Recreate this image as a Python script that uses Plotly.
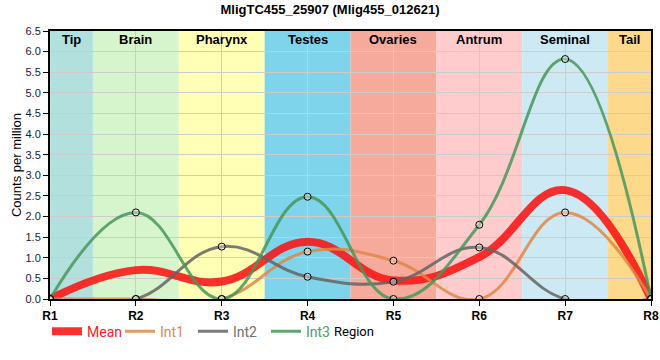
import plotly.graph_objects as go

regions = ["R1", "R2", "R3", "R4", "R5", "R6", "R7", "R8"]
int1 = [0, 0, 0, 1.15, 0.93, 0, 2.1, 0]
int2 = [0, 0, 1.27, 0.54, 0.42, 1.25, 0, 0]
int3 = [0, 2.1, 0, 2.48, 0, 1.8, 5.82, 0]
mean = [round((a + b + c) / 3, 3) for a, b, c in zip(int1, int2, int3)]

band_names = ["Tip", "Brain", "Pharynx", "Testes", "Ovaries", "Antrum", "Seminal", "Tail"]
band_starts = [1, 1.5, 2.5, 3.5, 4.5, 5.5, 6.5, 7.5]
band_ends = [1.5, 2.5, 3.5, 4.5, 5.5, 6.5, 7.5, 8]
band_colors = ["#b2e0dc", "#d7f5cd", "#ffffb5", "#7ed4ea", "#f5aa9c", "#ffcccd", "#cdeaf4", "#fdd98b"]

xs = list(range(1, len(regions) + 1))

fig = go.Figure()

series = [
    ("Mean", mean, "rgba(250,20,20,0.88)", 8, "#f5222d"),
    ("Int1", int1, "rgba(222,135,70,0.85)", 3, "#e0894a"),
    ("Int2", int2, "rgba(100,100,100,0.85)", 3, "#707070"),
    ("Int3", int3, "rgba(70,150,90,0.85)", 3, "#4e9c60"),
]
for name, ys, col, w, tcol in series:
    fig.add_trace(go.Scatter(
        x=xs, y=ys, mode="lines", line=dict(color=col, width=w, shape="spline", smoothing=1.2),
        name=f"<span style='color:{tcol}'>{name}</span>", hoverinfo="skip",
    ))

for ys in (int1, int2, int3):
    fig.add_trace(go.Scatter(
        x=xs, y=ys, mode="markers", showlegend=False, hoverinfo="skip",
        marker=dict(size=7, color="rgba(255,255,255,0.35)", line=dict(color="black", width=1)),
    ))

for n, a, b, c in zip(band_names, band_starts, band_ends, band_colors):
    fig.add_shape(type="rect", xref="x", yref="paper", x0=a, x1=b, y0=0, y1=1,
                  fillcolor=c, line=dict(width=0), layer="below")
    fig.add_annotation(x=(a + b) / 2, y=1, xref="x", yref="paper", yanchor="top", yshift=1,
                       text=f"<b>{n}</b>", showarrow=False,
                       font=dict(size=13, color="black", family="Liberation Sans, Arial"))

fig.add_annotation(x=0.505, y=-0.123, xref="paper", yref="paper", xanchor="center", yanchor="middle",
                   text="Region", showarrow=False,
                   font=dict(size=13, color="black", family="Roboto, Liberation Sans"))

fig.update_layout(
    width=660, height=360,
    margin=dict(l=50, r=9, t=31, b=61),
    paper_bgcolor="white", plot_bgcolor="white",
    font=dict(family="Liberation Sans, Arial", color="black"),
    title=dict(text="<b>MligTC455_25907 (Mlig455_012621)</b>", x=0.5, xanchor="center",
               y=0.975, yanchor="middle", font=dict(size=13)),
    showlegend=True,
    legend=dict(orientation="h", x=-0.005, xanchor="left", y=-0.062, yanchor="top",
                font=dict(size=14, family="Roboto, Liberation Sans"), itemwidth=30,
                entrywidth=28, entrywidthmode="pixels",
                bgcolor="rgba(0,0,0,0)"),
)
fig.update_xaxes(
    range=[1, 8], tickvals=xs, ticktext=[f"<b>{r}</b>" for r in regions],
    tickfont=dict(size=12), showgrid=True, gridcolor="#cccccc", gridwidth=1,
    showline=True, linecolor="black", linewidth=2, mirror=True,
    ticks="outside", ticklen=5, tickcolor="black", zeroline=False, automargin=False,
)
fig.update_yaxes(
    range=[0, 6.5], dtick=0.5, tickformat=".1f", tickfont=dict(size=11, color="#1a1a3a"),
    showgrid=True, gridcolor="#cccccc", gridwidth=1,
    showline=True, linecolor="black", linewidth=2, mirror=True,
    ticks="outside", ticklen=5, tickcolor="black", zeroline=False, automargin=False,
    title=dict(text="Counts per million", font=dict(size=13), standoff=1),
)

fig.write_html("out.html", config={"displayModeBar": False},
               post_script="document.body.style.margin='0';")
